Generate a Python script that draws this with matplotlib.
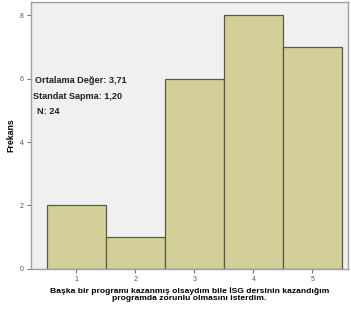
import matplotlib.pyplot as plt

# data
categories = [1, 2, 3, 4, 5]
frequencies = [2, 1, 6, 8, 7]
yticks = [0, 2, 4, 6, 8]
stats_lines = ["Ortalama Değer: 3,71", "Standat Sapma: 1,20", "N: 24"]
xlabel = "Başka bir programı kazanmış olsaydım bile İSG dersinin kazandığım\nprogramda zorunlu olmasını isterdim."

plt.rcParams['font.family'] = ['Liberation Sans', 'DejaVu Sans']

fig = plt.figure(figsize=(3.51, 3.13), dpi=100)
ax = fig.add_axes([0.088, 0.141, 0.903, 0.853])
ax.set_facecolor('#f0f0f0')

ax.bar(categories, frequencies, width=1.0, color='#d3cf98', edgecolor='#5a5a48', linewidth=0.9)

ax.set_xlim(0.23, 5.6)
ax.set_ylim(0, 8.42)
ax.set_xticks(categories)
ax.set_yticks(yticks)
ax.tick_params(axis='both', labelsize=5, colors='#555555', length=3, width=0.6, direction='out', pad=2)
for s in ax.spines.values():
    s.set_color('#a0a0a0')
    s.set_linewidth(1.0)

ax.set_ylabel("Frekans", fontsize=6.3, fontweight='bold')
ax.yaxis.set_label_coords(-0.05, 0.5)
ax.set_xlabel(xlabel, fontsize=6.1, fontweight='bold', linespacing=1.1, labelpad=3)

ys = [81, 97, 112]
xs = [35, 33, 37]
for t, x, y in zip(stats_lines, xs, ys):
    fig.text(x / 351, 1 - y / 313, t, fontsize=6.6, fontweight='bold', va='center', ha='left', color='#222222')

fig.savefig("out.png", dpi=100)
